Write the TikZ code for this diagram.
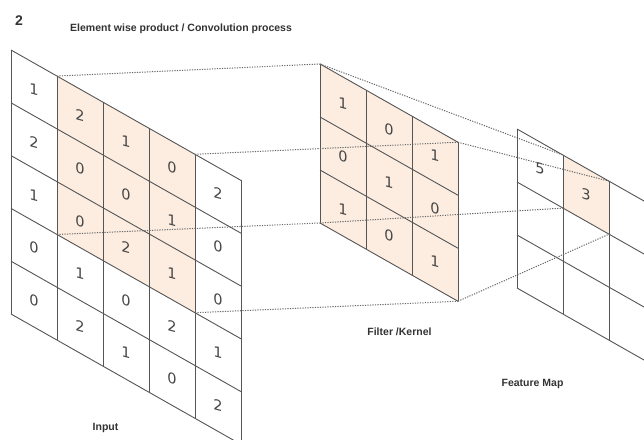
\documentclass[tikz,border=0pt]{standalone}
\usepackage{fontspec}
\setmainfont{Liberation Sans}
\newfontfamily\digitfont{DejaVu Sans}

\definecolor{gridline}{HTML}{555555}
\definecolor{cellfill}{HTML}{FCEDE0}
\definecolor{linkline}{HTML}{666666}
\definecolor{labeltext}{HTML}{333333}
\definecolor{digittext}{HTML}{474747}

\tikzset{
  plane/.style={yslant=-0.567},
  gridpen/.style={draw=gridline, line width=0.9pt},
  digit/.style={transform shape, yslant=0.3, inner sep=0pt, text=digittext,
    font=\digitfont\fontsize{14.5}{14.5}\selectfont},
  caption/.style={inner sep=0pt, text=labeltext,
    font=\bfseries\fontsize{10.5}{12}\selectfont},
  link/.style={draw=linkline, line width=1pt, dash pattern=on 1.2pt off 1.3pt},
}

\begin{document}
\begin{tikzpicture}[x=1pt, y=-1pt]
\useasboundingbox (0,0) rectangle (644,439);
\clip (0,0) rectangle (644,439);
\fill[white] (0,0) rectangle (644,439);

% ---------- input layer: 5 x 5 ----------
\begin{scope}[shift={(11,50)}, plane]
  \fill[cellfill] (46,0) rectangle (184,158.4);
  \foreach \c in {0,...,5} \draw[gridpen] (\c*46,0) -- (\c*46,264);
  \foreach \r in {0,...,5} \draw[gridpen] (0,\r*52.8) -- (230,\r*52.8);
  \foreach \v [count=\r from 0] in {1,2,1,0,0}
    \node[digit] (in-0-\r) at (23,{(\r+0.5)*52.8}) {\v};
  \foreach \v [count=\r from 0] in {2,0,0,1,2}
    \node[digit] (in-1-\r) at (69,{(\r+0.5)*52.8}) {\v};
  \foreach \v [count=\r from 0] in {1,0,2,0,1}
    \node[digit] (in-2-\r) at (115,{(\r+0.5)*52.8}) {\v};
  \foreach \v [count=\r from 0] in {0,1,1,2,0}
    \node[digit] (in-3-\r) at (161,{(\r+0.5)*52.8}) {\v};
  \foreach \v [count=\r from 0] in {2,0,0,1,2}
    \node[digit] (in-4-\r) at (207,{(\r+0.5)*52.8}) {\v};
  % corners of the window under the filter
  \coordinate (in-win-tl) at (46,0);
  \coordinate (in-win-tr) at (184,0);
  \coordinate (in-win-bl) at (46,158.4);
  \coordinate (in-win-br) at (184,158.4);
\end{scope}

% ---------- filter: 3 x 3 ----------
\begin{scope}[shift={(320,64)}, plane]
  \fill[cellfill] (0,0) rectangle (138,159);
  \foreach \c in {0,...,3} \draw[gridpen] (\c*46,0) -- (\c*46,159);
  \foreach \r in {0,...,3} \draw[gridpen] (0,\r*53) -- (138,\r*53);
  \foreach \v [count=\r from 0] in {1,0,1}
    \node[digit] (fi-0-\r) at (23,{(\r+0.5)*53}) {\v};
  \foreach \v [count=\r from 0] in {0,1,0}
    \node[digit] (fi-1-\r) at (69,{(\r+0.5)*53}) {\v};
  \foreach \v [count=\r from 0] in {1,0,1}
    \node[digit] (fi-2-\r) at (115,{(\r+0.5)*53}) {\v};
  \coordinate (fi-tl) at (0,0);
  \coordinate (fi-tr) at (138,0);
  \coordinate (fi-bl) at (0,159);
  \coordinate (fi-br) at (138,159);
\end{scope}

% ---------- feature map: 3 x 3 ----------
\begin{scope}[shift={(517,129)}, plane]
  \fill[cellfill] (46,0) rectangle (92,53);
  \foreach \c in {0,...,3} \draw[gridpen] (\c*46,0) -- (\c*46,159);
  \foreach \r in {0,...,3} \draw[gridpen] (0,\r*53) -- (138,\r*53);
  \node[digit] (fm-0-0) at (23,26.5) {5};
  \node[digit] (fm-1-0) at (69,26.5) {3};
  \coordinate (fm-tl) at (46,0);
  \coordinate (fm-tr) at (92,0);
  \coordinate (fm-bl) at (46,53);
  \coordinate (fm-br) at (92,53);
\end{scope}

% ---------- projection lines ----------
\draw[link] (in-win-tl) -- (fi-tl);
\draw[link] (in-win-tr) -- (fi-tr);
\draw[link] (in-win-bl) -- (fi-bl);
\draw[link] (in-win-br) -- (fi-br);
\draw[link] (fi-tl) -- (fm-tl);
\draw[link] (fi-tr) -- (fm-tr);
\draw[link] (fi-bl) -- (fm-bl);
\draw[link] (fi-br) -- (fm-br);

% ---------- captions ----------
\node[caption, anchor=base west, font=\bfseries\fontsize{14}{14}\selectfont]
  (fig-num) at (15,25) {2};
\node[caption, anchor=base west] (title) at (70,31)
  {Element wise product / Convolution process};
\node[caption, anchor=base] (lbl-input) at (105.5,430) {Input};
\node[caption, anchor=base] (lbl-filter) at (399.5,335) {Filter /Kernel};
\node[caption, anchor=base] (lbl-map) at (532.5,386) {Feature Map};
\end{tikzpicture}
\end{document}
